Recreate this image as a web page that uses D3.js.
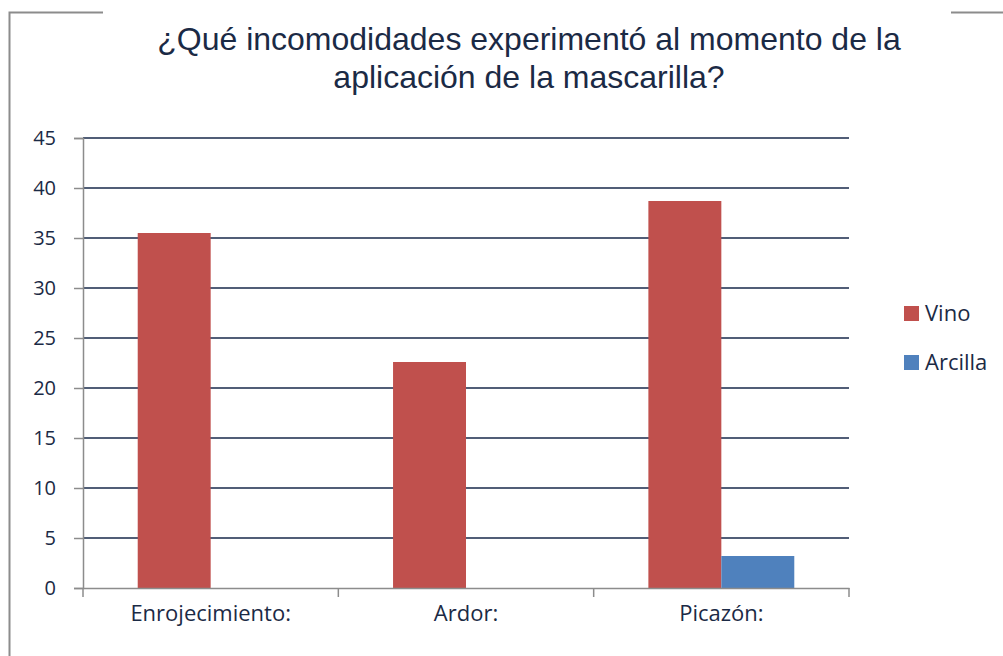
<!DOCTYPE html>
<html><head><meta charset="utf-8">
<script src="https://cdn.jsdelivr.net/npm/d3@7"></script>
<style>body{margin:0;background:#fff}svg{display:block}</style>
</head><body>
<svg id="c" width="1003" height="656"></svg>
<script>
const categories = ["Enrojecimiento:", "Ardor:", "Picazón:"];
const seriesNames = ["Vino", "Arcilla"];
const vino = [35.5, 22.6, 38.7];
const arcilla = [0, 0, 3.2];
const yTicks = [0, 5, 10, 15, 20, 25, 30, 35, 40, 45];
const titleLines = ["¿Qué incomodidades experimentó al momento de la", "aplicación de la mascarilla?"];
const colors = ["#C0504D", "#4F81BD"];

const svg = d3.select("#c");
const textColor = "#1B2A45";
const mLeft = 83, mRight = 849, mTop = 138, mBottom = 588;

// frame
svg.append("path").attr("d", "M9.5,656 V12.5 H103").attr("fill", "none").attr("stroke", "#8c8c8c").attr("stroke-width", 2);
svg.append("path").attr("d", "M951,12.5 H1003").attr("fill", "none").attr("stroke", "#8c8c8c").attr("stroke-width", 2);

// title
svg.append("g").selectAll("text").data(titleLines).join("text")
  .attr("x", 529).attr("y", (d, i) => 50 + i * 38)
  .attr("text-anchor", "middle")
  .attr("font-family", "'Liberation Sans', Arial, sans-serif")
  .attr("font-size", 32).attr("fill", textColor).text(d => d);

const y = d3.scaleLinear().domain([0, 45]).range([mBottom, mTop]);
const x0 = d3.scaleBand().domain(categories).range([mLeft, mRight]).padding(0);
const x1 = d3.scaleBand().domain(seriesNames).range([0, x0.bandwidth()]).paddingInner(0).paddingOuter(0.75);

// gridlines
svg.append("g").selectAll("line").data(yTicks.filter(t => t > 0)).join("line")
  .attr("x1", mLeft).attr("x2", mRight).attr("y1", d => y(d)).attr("y2", d => y(d))
  .attr("stroke", "#17284A").attr("stroke-width", 1.7);

// y axis
const yAxis = svg.append("g").attr("transform", `translate(${mLeft},0)`)
  .call(d3.axisLeft(y).tickValues(yTicks).tickSize(9).tickPadding(18));
yAxis.select(".domain").attr("stroke", "#8c8c8c").attr("stroke-width", 1.5);
yAxis.selectAll(".tick line").attr("stroke", "#8c8c8c").attr("stroke-width", 1.5);
yAxis.selectAll("text").attr("font-family", "'Open Sans', sans-serif").attr("font-size", 20).attr("fill", textColor);

// bars
const data = categories.map((c, i) => ({ c, vals: [vino[i], arcilla[i]] }));
svg.append("g").selectAll("g").data(data).join("g")
  .attr("transform", d => `translate(${x0(d.c)},0)`)
  .selectAll("rect").data(d => d.vals.map((v, j) => ({ s: seriesNames[j], v, j })))
  .join("rect")
  .attr("x", d => x1(d.s)).attr("width", x1.bandwidth())
  .attr("y", d => y(d.v)).attr("height", d => mBottom - y(d.v))
  .attr("fill", d => colors[d.j]);

// x axis
const xAxis = svg.append("g").attr("transform", `translate(0,${mBottom})`)
  .call(d3.axisBottom(x0).tickSize(0).tickPadding(17));
xAxis.select(".domain").attr("stroke", "#8c8c8c").attr("stroke-width", 1.5);
xAxis.selectAll("text").attr("font-family", "'Open Sans', sans-serif").attr("font-size", 22).attr("fill", textColor);
const bounds = categories.map(c => x0(c)).concat([mRight]);
svg.append("g").selectAll("line").data(bounds).join("line")
  .attr("x1", d => d).attr("x2", d => d).attr("y1", mBottom).attr("y2", mBottom + 9)
  .attr("stroke", "#8c8c8c").attr("stroke-width", 1.5);

// legend
const lg = svg.append("g").selectAll("g").data(seriesNames).join("g")
  .attr("transform", (d, i) => `translate(904,${306 + i * 49})`);
lg.append("rect").attr("width", 15).attr("height", 15).attr("fill", (d, i) => colors[i]);
lg.append("text").attr("x", 21).attr("y", 15)
  .attr("font-family", "'Open Sans', sans-serif").attr("font-size", 22).attr("fill", textColor).text(d => d);
</script>
</body></html>
